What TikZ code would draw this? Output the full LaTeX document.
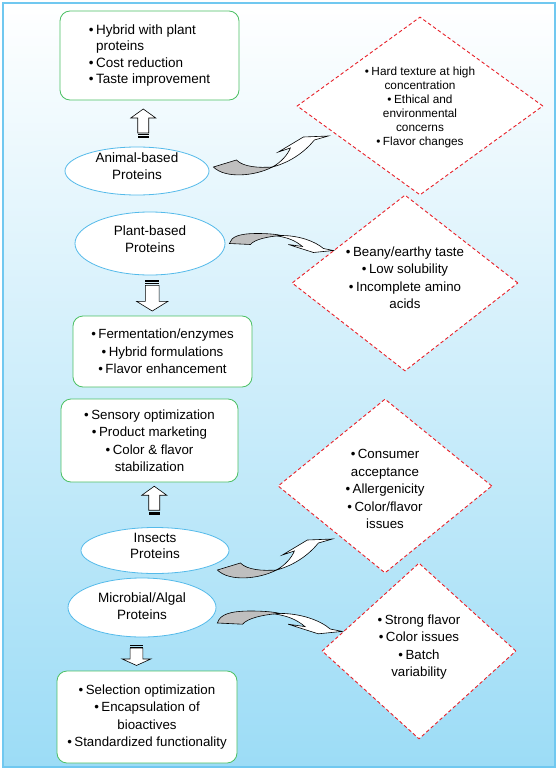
\documentclass[tikz,border=0pt]{standalone}
\usepackage{fontspec}
\setmainfont{Liberation Sans}
\usetikzlibrary{calc,positioning,shapes.geometric}
\definecolor{bgblue}{RGB}{156,220,246}
\definecolor{rimblue}{RGB}{112,200,240}
\definecolor{ovalblue}{RGB}{84,186,234}
\definecolor{boxgreen}{RGB}{76,192,100}
\definecolor{dashred}{RGB}{232,32,40}
\newcommand{\bul}{\textbullet\hspace{2.5pt}}
\tikzset{
	blockup/.pic={
		\draw[fill=white,line width=0.6pt] (0,-14.5) -- (12.5,-5.5) -- (5.5,-5.5) -- (5.5,9.5) -- (-5.5,9.5) -- (-5.5,-5.5) -- (-12.5,-5.5) -- cycle;
		\fill (-5.5,10.8) rectangle (5.5,11.6);
		\fill (-5.5,12.6) rectangle (5.5,14.5);
	},
	curvup/.pic={
		\draw[fill=white,line width=0.6pt] (59,0) .. controls (68,-5) and (74,-12) .. (77,-19) -- (65,-15) -- (90,-30) -- (115,-31) -- (101,-27) .. controls (92,-16) and (78,-5) .. (59,0) -- cycle;
		\draw[fill=black!25,line width=0.6pt] (0,0) -- (23,-7) .. controls (30,0) and (45,1) .. (59,0) .. controls (42,9) and (12,12) .. (0,0) -- cycle;
	},
	curvarch/.pic={
		\draw[fill=white,line width=0.6pt] (52,-8) .. controls (70,-8) and (86,-2) .. (94,5) -- (104,7) -- (84,9) -- (59,1) -- (73,3) .. controls (66,-3) and (58,-6) .. (48,-7.5) -- cycle;
		\draw[fill=black!25,line width=0.6pt] (0,0) .. controls (2,-7) and (10,-10) .. (28,-10) .. controls (40,-10) and (48,-9) .. (52,-8) .. controls (38,-7) and (25,-4) .. (21,1) -- cycle;
	}
}

\begin{document}
\begin{tikzpicture}[x=1pt,y=-1pt,
	box/.style={rectangle,rounded corners=10pt,draw=boxgreen,line width=0.8pt,fill=white,align=center,font=\fontsize{13.3}{17.5}\selectfont},
	oval/.style={ellipse,draw=ovalblue,line width=0.8pt,fill=white,inner sep=0pt},
	ovaltxt/.style={align=center,inner sep=0pt,font=\fontsize{13.5}{16.5}\selectfont},
	risk/.style={diamond,draw=dashred,dash pattern=on 3.5pt off 2.5pt,line width=0.9pt,fill=white,inner sep=0pt},
	risktxt/.style={align=center,inner sep=0pt,font=\fontsize{13.3}{17.5}\selectfont}]
\useasboundingbox (0,0) rectangle (558,770);
% background
\shade[top color=white,middle color=white!45!bgblue,bottom color=bgblue] (3,3) rectangle (555,767);
\draw[rimblue,line width=1.5pt] (3,3) rectangle (555,767);

% animal
\node (animalfix)[box,align=left,minimum width=179pt,minimum height=89pt,font=\fontsize{13.5}{16.5}\selectfont] at (149.5,55.5)
	{\bul Hybrid with plant\\\hphantom{\bul}proteins\\\bul Cost reduction\\\bul Taste improvement};
\node (animal)[oval,minimum width=144pt,minimum height=48pt] at (137,171) {};
\node (animaltxt)[ovaltxt] at ($(animal)+(0,-5)$) {Animal-based\\Proteins};
\node (animalrisk)[risk,minimum width=246pt,minimum height=178pt] at (420,106) {};
\node (animalrisktxt)[risktxt,font=\fontsize{11.8}{14}\selectfont] at ($(animalrisk)+(0,1)$)
	{\bul Hard texture at high\\concentration\\\bul Ethical and\\environmental\\concerns\\\bul Flavor changes};

% plant
\node (plant)[oval,minimum width=150pt,minimum height=63pt] at (150,243.5) {};
\node (planttxt)[ovaltxt] at ($(plant)+(0,-4.5)$) {Plant-based\\Proteins};
\node (plantrisk)[risk,minimum width=226pt,minimum height=176pt] at (405,283) {};
\node (plantrisktxt)[risktxt] at ($(plantrisk)+(0,-5.5)$)
	{\bul Beany/earthy taste\\\bul Low solubility\\\bul Incomplete amino\\acids};
\node (plantfix)[box,minimum width=179pt,minimum height=71pt] at (162.5,351.5)
	{\bul Fermentation/enzymes\\\bul Hybrid formulations\\\bul Flavor enhancement};

% insects
\node (insectfix)[box,minimum width=177pt,minimum height=83pt] at (149.5,440.5)
	{\bul Sensory optimization\\\bul Product marketing\\\bul Color \& flavor\\stabilization};
\node (insect)[oval,minimum width=148pt,minimum height=46pt] at (155,550.5) {};
\node (insecttxt)[ovaltxt] at ($(insect)+(0,-4.5)$) {Insects\\Proteins};
\node (insectrisk)[risk,minimum width=214pt,minimum height=174pt] at (385,486) {};
\node (insectrisktxt)[risktxt] at ($(insectrisk)+(0,3)$)
	{\bul Consumer\\acceptance\\\bul Allergenicity\\\bul Color/flavor\\issues};

% microbial
\node (microbe)[oval,minimum width=148pt,minimum height=59pt] at (142,607.5) {};
\node (microbetxt)[ovaltxt] at ($(microbe)+(0,-1.5)$) {Microbial/Algal\\Proteins};
\node (microberisk)[risk,minimum width=194pt,minimum height=176pt] at (419,651) {};
\node (microberisktxt)[risktxt] at ($(microberisk)+(0,-4)$)
	{\bul Strong flavor\\\bul Color issues\\\bul Batch\\variability};
\node (microbefix)[box,minimum width=180pt,minimum height=92pt] at (147,717)
	{\bul Selection optimization\\\bul Encapsulation of\\bioactives\\\bul Standardized functionality};

% block arrows
\pic at ($(animal.north)!0.5!(animalfix.south)$) {blockup};
\pic[rotate=180,xscale=1.25,yscale=1.07] at ($(plant.south)!0.5!(plantfix.north)+(-4,0)$) {blockup};
\pic at ($(insect.north)!0.5!(insectfix.south)+(2,-4)$) {blockup};
\pic[rotate=180,xscale=1.15,yscale=0.72] at ($(microbe.south)!0.5!(microbefix.north)+(-8,1)$) {blockup};

% curved arrows
\pic at ($(animal.east)+(4,-4)$) {curvup};
\pic at ($(plant.east)+(4,0)$) {curvarch};
\pic at ($(insect.east)+(-12,19.5)$) {curvup};
\pic[scale=1.2] at ($(microbe.east)+(1,15.5)$) {curvarch};
\end{tikzpicture}
\end{document}
